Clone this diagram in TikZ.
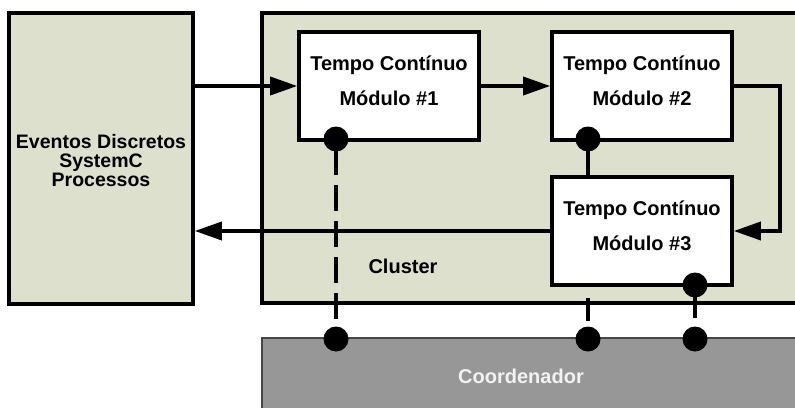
\documentclass[tikz,border=0pt]{standalone}
\usepackage{fontspec}
\setmainfont{Liberation Sans}
\usetikzlibrary{arrows.meta,calc}
\definecolor{panel}{RGB}{221,224,204}
\definecolor{coordfill}{RGB}{151,151,151}
\definecolor{coordline}{RGB}{70,70,70}
\definecolor{coordtext}{RGB}{242,242,242}
\begin{document}
\begin{tikzpicture}[x=1pt,y=-1pt,
  panelbox/.style={draw=black,line width=3.6pt,fill=panel},
  modbox/.style={draw=black,line width=3.6pt,fill=white,minimum width=180pt,minimum height=108pt,inner sep=0pt},
  modtext/.style={font=\fontsize{20}{35}\selectfont\bfseries,align=center,inner sep=0pt},
  conn/.style={line width=3.6pt,line cap=butt},
  arrowline/.style={conn,-{Triangle[length=27pt,width=18pt]}},
  dot/.style={circle,fill=black,inner sep=0pt,minimum size=25pt},
  lbl/.style={font=\fontsize{20}{24}\selectfont\bfseries,inner sep=0pt}]
\useasboundingbox (0,0) rectangle (795,407);
\clip (0,0) rectangle (795,407);

% background panels
\draw[panelbox] (262,13) rectangle (820,303);
\fill[coordfill] (262,338) rectangle (820,420);
\draw[coordline,line width=2.2pt] (262,420) -- (262,338) -- (820,338);

% discrete-event side
\node[panelbox,minimum width=184pt,minimum height=291pt,inner sep=0pt] (evd) at (101,158.5) {};
\node[font=\fontsize{19.5}{19}\selectfont\bfseries,align=center,inner sep=0pt] (evdt) at (101,161)
  {Eventos Discretos\\SystemC\\Processos};

% continuous-time modules
\node[modbox] (m1) at (389,86) {};
\node[modbox] (m2) at (642,86) {};
\node[modbox] (m3) at (642,231) {};
\node[modtext] (m1t) at ($(m1.center)+(0,-5.5)$) {Tempo Contínuo\\Módulo \#1};
\node[modtext] (m2t) at ($(m2.center)+(0,-5.5)$) {Tempo Contínuo\\Módulo \#2};
\node[modtext] (m3t) at ($(m3.center)+(0,-5.5)$) {Tempo Contínuo\\Módulo \#3};

\node[lbl] (cl) at (403,266) {Cluster};
\node[lbl,text=coordtext] (co) at (521,376) {Coordenador};

% signal flow
\draw[arrowline] (evd.east |- m1.west) -- (m1.west);
\draw[arrowline] (m1.east) -- (m2.west);
\draw[arrowline] (m2.east) -- ++(46,0) |- (m3.east);
\draw[arrowline] (m3.west) -- (evd.east |- m3.west);

% synchronisation ports
\node[dot] (p1) at (336,139) {};
\node[dot] (p2) at (588,139) {};
\node[dot] (p3) at (695,285) {};
\node[dot] (c1) at (336,339) {};
\node[dot] (c2) at (588,339) {};
\node[dot] (c3) at (695,339) {};

\draw[conn,dash pattern=on 36pt off 10pt on 26pt off 10pt on 26pt off 10pt on 26pt off 10pt on 26pt off 100pt]
  (p1.center) -- (c1.center);
\draw[conn] (p2.center) -- (p2.center |- m3.north);
\draw[conn,dash pattern=on 0pt off 11pt on 23pt off 100pt] (p2.center |- m3.south) -- (c2.center);
\draw[conn,dash pattern=on 33pt off 100pt] (p3.center) -- (c3.center);
\end{tikzpicture}
\end{document}
